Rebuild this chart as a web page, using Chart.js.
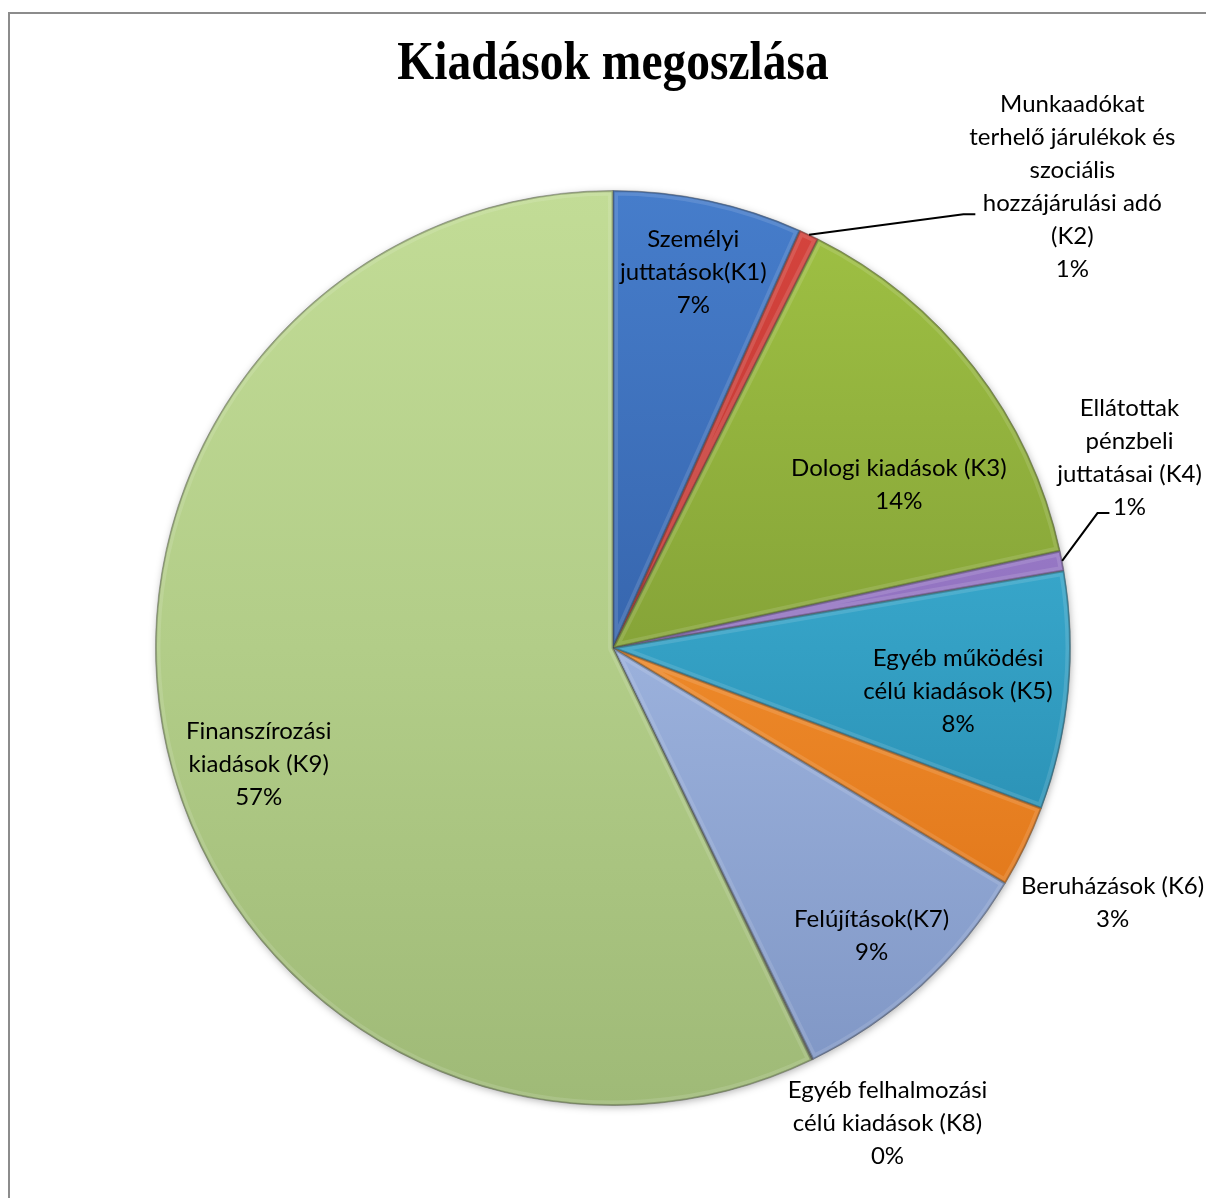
<!DOCTYPE html>
<html>
<head>
<meta charset="utf-8">
<script src="https://cdn.jsdelivr.net/npm/chart.js@4.4.1/dist/chart.umd.min.js"></script>
<style>
html,body{margin:0;padding:0;background:#fff;}
canvas{display:block;}
</style>
</head>
<body>
<canvas id="c" width="1206" height="1198"></canvas>
<script>
// ---- data ----
const chartTitle = 'Kiadások megoszlása';
const categories = [
  'Személyi juttatások(K1)',
  'Munkaadókat terhelő járulékok és szociális hozzájárulási adó (K2)',
  'Dologi kiadások (K3)',
  'Ellátottak pénzbeli juttatásai (K4)',
  'Egyéb működési célú kiadások (K5)',
  'Beruházások (K6)',
  'Felújítások(K7)',
  'Egyéb felhalmozási célú kiadások (K8)',
  'Finanszírozási kiadások (K9)'
];
const labelLines = [
  ['Személyi', 'juttatások(K1)'],
  ['Munkaadókat', 'terhelő járulékok és', 'szociális', 'hozzájárulási adó', '(K2)'],
  ['Dologi kiadások (K3)'],
  ['Ellátottak', 'pénzbeli', 'juttatásai (K4)'],
  ['Egyéb működési', 'célú kiadások (K5)'],
  ['Beruházások (K6)'],
  ['Felújítások(K7)'],
  ['Egyéb felhalmozási', 'célú kiadások (K8)'],
  ['Finanszírozási', 'kiadások (K9)']
];
const shares = [6.7, 0.7, 14.2, 0.7, 8.4, 2.9, 9.2, 0.05, 57.15];

// ---- styles ----
const colorTop = ['#467DCB', '#D6453E', '#A0C244', '#AC8DD8', '#46BEE2', '#FCA040', '#B2C7EF', '#9A9A9A', '#C2DC96'];
const colorBottom = ['#24498A', '#A02222', '#66802A', '#6E4FA0', '#1E7CA0', '#DA6C10', '#7E95C4', '#6A6A6A', '#9FBA77'];
// label placement: inside -> radius fraction + angle nudge (deg); outside -> anchor in radius units
const labelLayout = [
  {mode: 'in', r: 0.84, da: 0},
  {mode: 'out', dx: 1.004, dy: -1.188, elbow: [0.766, -0.948], end: [0.792, -0.948]},
  {mode: 'in', r: 0.72, da: 8},
  {mode: 'out', dx: 1.129, dy: -0.524, elbow: [1.059, -0.295], end: [1.085, -0.295]},
  {mode: 'in', r: 0.76, da: 1.7},
  {mode: 'out', dx: 1.092, dy: 0.520},
  {mode: 'in', r: 0.845, da: 0.5},
  {mode: 'out', dx: 0.600, dy: 0.967},
  {mode: 'in', r: 0.815, da: -5.3}
];
const LABEL_FONT = '24px Lato';
const LINE_H = 33;

function mix(a, b, t) {
  const pa = parseInt(a.slice(1), 16), pb = parseInt(b.slice(1), 16);
  const r = Math.round(((pa >> 16) & 255) * (1 - t) + ((pb >> 16) & 255) * t);
  const g = Math.round(((pa >> 8) & 255) * (1 - t) + ((pb >> 8) & 255) * t);
  const bl = Math.round((pa & 255) * (1 - t) + (pb & 255) * t);
  return `rgb(${r},${g},${bl})`;
}

const frameAndTitle = {
  id: 'frameAndTitle',
  beforeDraw(chart) {
    const ctx = chart.ctx;
    ctx.save();
    ctx.fillStyle = '#fff';
    ctx.fillRect(0, 0, chart.width, chart.height);
    ctx.strokeStyle = '#8c8c8c';
    ctx.lineWidth = 2;
    ctx.strokeRect(9, 13, chart.width + 50, chart.height + 50);
    ctx.restore();
  },
  beforeDatasetsDraw(chart) {
    const meta = chart.getDatasetMeta(0);
    const a = meta.data[0];
    if (!a) return;
    const ctx = chart.ctx;
    ctx.save();
    ctx.shadowColor = 'rgba(0,0,0,0.35)';
    ctx.shadowBlur = 8;
    ctx.shadowOffsetX = 1;
    ctx.shadowOffsetY = 2;
    ctx.fillStyle = '#b8cf90';
    ctx.beginPath();
    ctx.arc(a.x, a.y, a.outerRadius - 1, 0, Math.PI * 2);
    ctx.fill();
    ctx.restore();
  },
  afterDatasetsDraw(chart) {
    const ctx = chart.ctx;
    const meta = chart.getDatasetMeta(0);
    meta.data.forEach((arc) => {
      const {x, y, startAngle, endAngle, outerRadius} = arc.getProps(['x', 'y', 'startAngle', 'endAngle', 'outerRadius'], true);
      if (endAngle - startAngle < 0.004) return;
      ctx.save();
      ctx.beginPath();
      ctx.moveTo(x, y);
      ctx.arc(x, y, outerRadius, startAngle, endAngle);
      ctx.closePath();
      ctx.clip();
      ctx.lineJoin = 'round';
      ctx.strokeStyle = 'rgba(255,255,255,0.12)';
      ctx.lineWidth = 10;
      ctx.stroke();
      ctx.strokeStyle = 'rgba(0,0,0,0.22)';
      ctx.lineWidth = 3;
      ctx.stroke();
      ctx.restore();
    });
  },
  afterDraw(chart) {
    const ctx = chart.ctx;
    const meta = chart.getDatasetMeta(0);
    const arc0 = meta.data[0];
    const cx = arc0.x, cy = arc0.y, R = arc0.outerRadius;
    const total = shares.reduce((s, v) => s + v, 0);

    // title
    ctx.save();
    ctx.fillStyle = '#000';
    ctx.font = 'bold 47.5px "Liberation Serif", "Times New Roman", serif';
    ctx.textAlign = 'center';
    ctx.textBaseline = 'alphabetic';
    ctx.translate(chart.width / 2 + 10, 79);
    ctx.scale(1, 1.14);
    ctx.fillText(chartTitle, 0, 0);
    ctx.restore();

    // labels
    ctx.save();
    ctx.fillStyle = '#000';
    ctx.strokeStyle = '#000';
    ctx.font = LABEL_FONT;
    ctx.textAlign = 'center';
    ctx.textBaseline = 'middle';
    meta.data.forEach((arc, i) => {
      const pct = Math.round(shares[i] / total * 100) + '%';
      const lines = labelLines[i].concat([pct]);
      const L = labelLayout[i];
      const mid = (arc.startAngle + arc.endAngle) / 2;
      if (L.mode === 'in') {
        const ang = mid + L.da * Math.PI / 180;
        const bx = cx + Math.cos(ang) * R * L.r;
        const by = cy + Math.sin(ang) * R * L.r;
        lines.forEach((t, k) => {
          ctx.fillText(t, bx, by + (k - (lines.length - 1) / 2) * LINE_H);
        });
      } else {
        const bx = cx + L.dx * R;
        const by = cy + L.dy * R;
        lines.forEach((t, k) => {
          ctx.fillText(t, bx, by + k * LINE_H);
        });
        if (L.elbow) {
          ctx.lineWidth = 2;
          ctx.beginPath();
          ctx.moveTo(cx + Math.cos(mid) * R, cy + Math.sin(mid) * R);
          ctx.lineTo(cx + L.elbow[0] * R, cy + L.elbow[1] * R);
          ctx.lineTo(cx + L.end[0] * R, cy + L.end[1] * R);
          ctx.stroke();
        }
      }
    });
    ctx.restore();
  }
};

new Chart(document.getElementById('c'), {
  type: 'pie',
  data: {
    labels: categories,
    datasets: [{
      data: shares,
      backgroundColor: (c) => {
        const chart = c.chart;
        const area = chart.chartArea;
        const i = c.dataIndex;
        if (!area || i === undefined) return colorTop[i || 0];
        const g = chart.ctx.createLinearGradient(0, area.top, 0, area.bottom);
        g.addColorStop(0, colorTop[i]);
        g.addColorStop(0.5, mix(colorTop[i], colorBottom[i], 0.45));
        g.addColorStop(1, colorBottom[i]);
        return g;
      },
      borderColor: 'rgba(60,60,60,0.35)',
      borderWidth: 1
    }]
  },
  options: {
    responsive: false,
    devicePixelRatio: 1,
    animation: false,
    layout: {padding: {left: 155, right: 135, top: 190, bottom: 92}},
    plugins: {legend: {display: false}, tooltip: {enabled: false}, title: {display: false}}
  },
  plugins: [frameAndTitle]
});
</script>
</body>
</html>
